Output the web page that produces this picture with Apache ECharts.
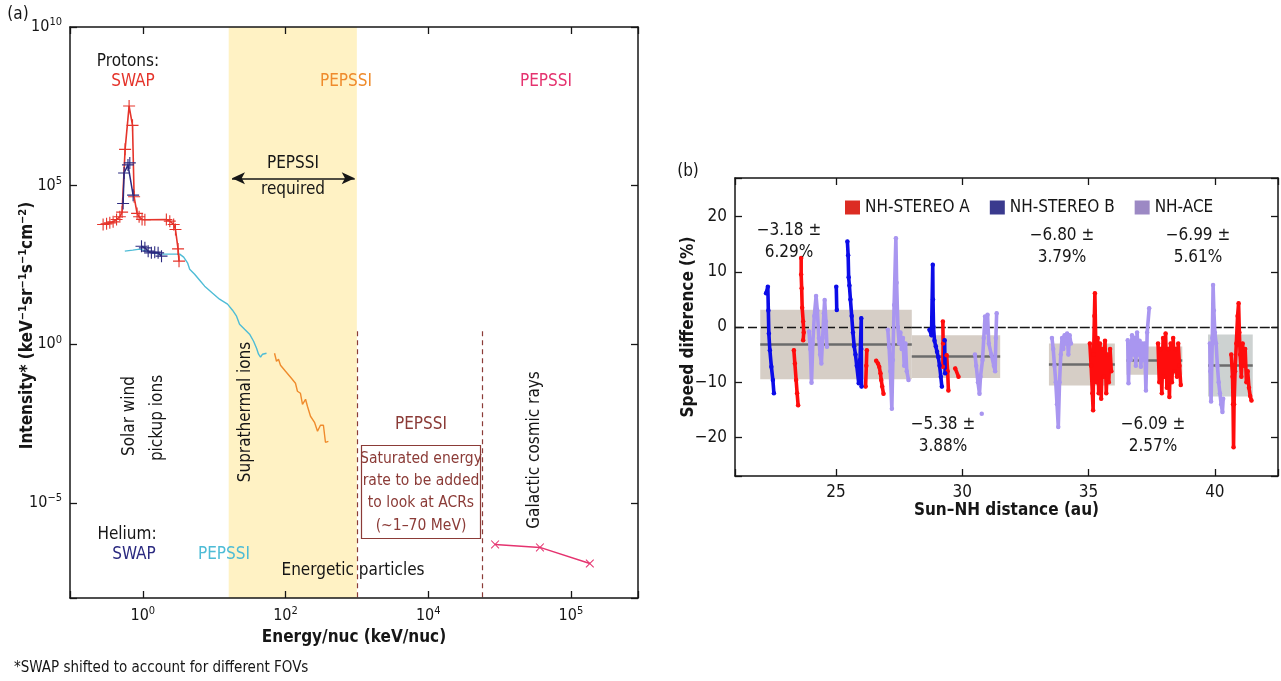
<!DOCTYPE html>
<html><head><meta charset="utf-8">
<script src="https://cdn.jsdelivr.net/npm/echarts@6/dist/echarts.min.js"></script>
<style>html,body{margin:0;padding:0;background:#fff}#c{width:1281px;height:681px}</style>
</head><body><div id="c"></div>
<script>
// ================= Panel (a): energy (keV/nuc) vs intensity =================
const swapProtonE = [0.278,0.311,0.345,0.384,0.429,0.477,0.513,0.565,0.643,0.718,0.756,0.832,0.888,0.977,1.07,2.14,2.39,2.71,2.87,3.12,3.22];
const swapProtonI = [5970,6240,6700,7210,8590,10400,14600,1.39e6,3.22e7,7.93e6,44400,13300,10400,8590,8400,8590,7590,5970,4150,1010,415];
const swapHePeakE = [0.53,0.547,0.62,0.658,0.732];
const swapHePeakI = [27400,2.5e5,4.5e5,5.2e5,50100];
const swapHeLowE = [0.959,1.07,1.19,1.32,1.47,1.64,1.83];
const swapHeLowI = [1230,1090,859,759,798,759,597];
const pepssiHeE = [0.56,0.725,0.908,1.25,1.73,2.39,3.29,3.74,4.26,4.54,5.33,6.27,7.36,9.52,11.9,15.4,18.1,20.6,22.7,26.7,31.4,35.7,39.3,41.9,44.7,47.7,54.2];
const pepssiHeI = [859,923,993,798,690,690,690,555,359,232,161,104,67.6,40.6,26.3,18.3,11.8,7.64,4.28,2.97,2.07,1.24,0.748,0.484,0.389,0.484,0.52];
const pepssiProtonE = [70.2,74.8,79.8,85.1,100,121,138,147,162,173,191,203,224,255,281,309,340,363,399];
const pepssiProtonI = [0.52,0.291,0.336,0.218,0.141,0.0846,0.0588,0.0329,0.0284,0.0128,0.0184,0.0111,0.00536,0.00346,0.0018,0.00279,0.00279,0.00081,0.00087];
const gcrE = [86500,368000,1.84e6];
const gcrI = [4.9e-7,3.94e-7,1.23e-7];
const energyTickPos = [0,2,4,6];
const energyTickExp = ['0','2','4','5'];
const intensityTickPos = [-5,0,5,10];
const intensityTickExp = ['\u22125','0','5','10'];
const pepssiRequiredE = [16,1000];      // yellow band
const regionBoundE = [1000,57000];      // dashed dividers

// ================= Panel (b): Sun-NH distance (au) vs speed difference (%) =================
const stereoA = [
 [[23.33,-4.2],[23.37,-6.6],[23.42,-9.6],[23.46,-12],[23.5,-14.2]],
 [[23.62,12.5],[23.62,9.5],[23.64,7],[23.66,3.5],[23.7,1],[23.72,-1],[23.7,-2.4]],
 [[26.22,-4.2],[26.2,-7],[26.17,-10.8]],
 [[26.59,-6.1],[26.66,-6.6],[26.71,-7.2],[26.76,-8.4],[26.79,-9.6],[26.83,-10.8],[26.88,-12.1]],
 [[29.23,1],[29.24,-3],[29.23,-7.2]],
 [[29.38,-5.1],[29.42,-8],[29.45,-11.5]],
 [[29.72,-7.5],[29.85,-9]],
 [[35.05,-3],[35.1,-7],[35.15,-12],[35.18,-15.1],[35.2,-5],[35.23,2],[35.25,6.1],[35.28,-2],[35.32,-10],[35.36,-2],[35.4,-12],[35.45,-3],[35.5,-13],[35.55,-4],[35.6,-9],[35.65,-2.5],[35.7,-12],[35.75,-5],[35.8,-10],[35.85,-4],[35.9,-8]],
 [[37.75,-3],[37.8,-10],[37.85,-4],[37.9,-12],[37.95,-2],[38.0,-9],[38.05,-1.2],[38.1,-11],[38.15,-4],[38.2,-12.7],[38.25,-3],[38.3,-10],[38.35,-2],[38.4,-8],[38.45,-4],[38.5,-9],[38.55,-3],[38.6,-7],[38.65,-10.5]],
 [[40.65,-5],[40.7,-9],[40.72,-14],[40.74,-21.8],[40.76,-14],[40.8,-8],[40.85,-3],[40.9,2],[40.94,4.3],[40.97,-1],[41.0,-5],[41.05,-9],[41.1,-3],[41.15,-7],[41.2,-4],[41.25,-10],[41.3,-8],[41.35,-11],[41.4,-12.5],[41.45,-13.3]]
];
const stereoB = [
 [[22.23,6.1],[22.3,7.3],[22.32,3],[22.34,-1.2],[22.38,-4.2],[22.44,-7.2],[22.5,-9.6],[22.54,-12]],
 [[25.01,7.3],[25.03,3.1]],
 [[25.45,15.5],[25.48,13],[25.5,9],[25.53,7.5],[25.57,5],[25.62,2],[25.67,-1],[25.72,-3.5],[25.77,-5],[25.82,-7],[25.9,-10.2],[25.95,-6],[26.0,1.6],[26.0,-4],[26.01,-10.8]],
 [[28.7,-0.5],[28.78,-1.5],[28.83,11.3],[28.84,5],[28.86,0],[28.9,-2.5],[28.95,-3.5],[29.0,-4.5],[29.05,-5.5],[29.1,-7],[29.15,-9],[29.19,-10.8]],
 [[29.3,-2.4],[29.32,-8.4]]
];
const nhAce = [
 [[23.93,-0.8],[23.98,-4],[24.03,-10.1],[24.08,-3],[24.14,2],[24.21,5.6],[24.26,3],[24.32,-2],[24.37,-5],[24.42,-6.6],[24.47,-2],[24.52,2.5],[24.55,4.9],[24.6,1],[24.64,-3.6]],
 [[27.05,-0.5],[27.1,-3.6],[27.15,-8],[27.21,-14.8],[27.25,-6],[27.3,4],[27.37,16.1],[27.4,8],[27.45,0],[27.5,-3],[27.55,-1],[27.6,-4],[27.65,-2],[27.7,-7],[27.75,-3],[27.8,-8],[27.87,-9.6]],
 [[30.5,-5],[30.55,-7],[30.62,-10],[30.68,-12.1],[30.72,-9],[30.8,-6],[30.85,-2],[30.9,1.9],[30.95,-1],[31.0,2.2],[31.05,-3],[31.15,-5],[31.25,-7],[31.3,-8],[31.33,-2],[31.36,2.5]],
 [[30.77,-15.7]],
 [[33.55,-2],[33.6,-4],[33.65,-7],[33.7,-10],[33.75,-14],[33.8,-18.1],[33.85,-10],[33.9,-5],[33.95,-2],[34.0,-4],[34.05,-1.5],[34.1,-3],[34.15,-1.2],[34.2,-5],[34.25,-1.5],[34.3,-3]],
 [[36.55,-2.4],[36.58,-10.2],[36.62,-3],[36.67,-6],[36.72,-1.5],[36.77,-5],[36.82,-2],[36.87,-7],[36.92,-1],[36.97,-5],[37.02,-2.5],[37.07,-7.2],[37.12,-3],[37.17,-6],[37.22,-3],[37.27,-11.5],[37.32,-1],[37.4,3.4]],
 [[39.8,-3],[39.82,-8],[39.85,-13.5],[39.9,-2],[39.93,7.6],[39.96,3],[40.0,-1],[40.05,-3],[40.1,-7],[40.15,-10],[40.2,-12],[40.25,-14],[40.3,-15.4],[40.33,-13]]
];
const boxStart = [22.0,28.0,33.43,36.5,39.73];
const boxEnd   = [28.0,31.5,36.04,38.71,41.5];
const boxMean  = [-3.18,-5.38,-6.80,-6.09,-6.99];
const boxStd   = [6.29,3.88,3.79,2.57,5.61];
const seriesNames = ['NH-STEREO A','NH-STEREO B','NH-ACE'];
const zeroLineSplit = 28;   // dashed style changes here

// ================= styling =================
const FONT = "'Liberation Sans Narrow','DejaVu Sans Condensed','Liberation Sans',Arial,sans-serif";
const INK='#161616', RED='#E5342B', NAVY='#2B2A80', CYAN='#4EBCD6', ORANGE='#EF8B2C', PINK='#E5336F', BROWN='#8B3B37', BAND='#FFF2C4';
const B_RED='#FF0D0D', B_BLUE='#0C0CE8', B_LAV='#A996F0';
const LEG=['#DC2C23','#3A3A8E','#9C89C4'];
const BOXC=['#D6CEC6','#D6CEC6','#D6CEC6','#D6CEC6','#CDD2D1'];
const plusPath='path://M-0.55,-6H0.55V-0.55H6V0.55H0.55V6H-0.55V0.55H-6V-0.55H-0.55Z';
const L10=Math.log10;
const toLog=(E,I)=>E.map((e,i)=>[L10(e),L10(I[i])]);
const fmt=(v,d)=>(v<0?'\u2212':'')+Math.abs(v).toFixed(d);
const supRich={b:{fontSize:16,fontFamily:FONT,color:INK,lineHeight:20},s:{fontSize:11,fontFamily:FONT,color:INK,verticalAlign:'top',lineHeight:11}};
function expLabel(pos,exp){return v=>{const i=pos.findIndex(p=>Math.abs(p-v)<1e-6);return i<0?'':'{b|10}{s|'+exp[i]+'}';};}
const axLine={onZero:false,lineStyle:{color:INK,width:1.5}};
const tickIn={inside:true,length:7,lineStyle:{color:INK,width:1.3}};

const chart=echarts.init(document.getElementById('c'));
const series=[];
series.push({type:'line',xAxisIndex:0,yAxisIndex:0,data:[],silent:true,z:1,
  markArea:{silent:true,z:1,itemStyle:{color:BAND},data:[[{xAxis:L10(pepssiRequiredE[0])},{xAxis:L10(pepssiRequiredE[1])}]]}});
series.push({type:'line',xAxisIndex:0,yAxisIndex:0,data:[],silent:true,
  markLine:{silent:true,symbol:'none',label:{show:false},lineStyle:{color:BROWN,width:1.2,type:[5,4]},
    data:regionBoundE.map(e=>[{coord:[L10(e),0.41]},{coord:[L10(e),-8]}])}});
series.push({type:'line',xAxisIndex:0,yAxisIndex:0,data:[],silent:true,
  markLine:{silent:true,symbol:['arrow','arrow'],symbolSize:[9,13],label:{show:false},lineStyle:{color:INK,width:1.5,type:'solid'},
    data:[[{coord:[1.25,5.23]},{coord:[2.97,5.23]}]]}});
const lineA=(name,E,I,color,w,sym,size,rot)=>({type:'line',name,xAxisIndex:0,yAxisIndex:0,data:toLog(E,I),silent:true,z:4,
  symbol:sym||'none',symbolSize:size||12,symbolRotate:rot||0,showSymbol:!!sym,lineStyle:{color,width:w},itemStyle:{color}});
series.push(lineA('PEPSSI He',pepssiHeE,pepssiHeI,CYAN,1.4));
series.push(lineA('PEPSSI p',pepssiProtonE,pepssiProtonI,ORANGE,1.4));
series.push(lineA('SWAP p',swapProtonE,swapProtonI,RED,1.6,plusPath,12));
series.push(lineA('SWAP He peak',swapHePeakE,swapHePeakI,NAVY,1.5,plusPath,12));
series.push(lineA('SWAP He',swapHeLowE,swapHeLowI,NAVY,1.5,plusPath,12));
series.push(lineA('GCR',gcrE,gcrI,PINK,1.5,plusPath,11,45));

series.push({type:'line',xAxisIndex:2,yAxisIndex:2,data:[],silent:true,z:1,
  markArea:{silent:true,z:1,data:boxStart.map((s,i)=>[{coord:[s,boxMean[i]+boxStd[i]],itemStyle:{color:BOXC[i]}},{coord:[boxEnd[i],boxMean[i]-boxStd[i]]}])}});
series.push({type:'line',xAxisIndex:2,yAxisIndex:2,data:[],silent:true,
  markLine:{silent:true,z:2,symbol:'none',label:{show:false},lineStyle:{color:'#6B6B6B',width:2.5,type:'solid'},
    data:boxStart.map((s,i)=>[{coord:[s,boxMean[i]]},{coord:[boxEnd[i],boxMean[i]]}])}});
series.push({type:'line',xAxisIndex:2,yAxisIndex:2,data:[],silent:true,
  markLine:{silent:true,z:2,symbol:'none',label:{show:false},lineStyle:{color:INK,width:1.4,type:[9,4]},
    data:[[{coord:[21,0]},{coord:[zeroLineSplit,0]}]]}});
series.push({type:'line',xAxisIndex:2,yAxisIndex:2,data:[],silent:true,
  markLine:{silent:true,z:2,symbol:'none',label:{show:false},lineStyle:{color:INK,width:1.4,type:[10,2]},
    data:[[{coord:[zeroLineSplit,0]},{coord:[42.5,0]}]]}});
const traceColors=[B_RED,B_BLUE,B_LAV];
[stereoA,stereoB,nhAce].forEach((group,gi)=>group.forEach(tr=>series.push({type:'line',name:seriesNames[gi],xAxisIndex:2,yAxisIndex:2,data:tr,silent:true,z:3,
  symbol:'circle',symbolSize:4.5,showSymbol:true,lineStyle:{color:traceColors[gi],width:3.6,join:'round',cap:'round'},itemStyle:{color:traceColors[gi]}})));

const T=(x,y,text,o={})=>({type:'text',x,y,rotation:o.rot||0,silent:true,z:100,
  style:{text,fill:o.color||INK,fontSize:o.size||17,fontFamily:FONT,fontWeight:o.weight||'normal',align:o.align||'center',verticalAlign:'middle'}});
const R=Math.PI/2;
const graphic=[
 T(18,15,'(a)'),
 T(128,62,'Protons:'), T(133,82,'SWAP',{color:RED}),
 T(346,82,'PEPSSI',{color:ORANGE}), T(546,82,'PEPSSI',{color:PINK}),
 T(293,164,'PEPSSI'), T(293,190,'required'),
 T(421,425,'PEPSSI',{color:BROWN}),
 {type:'rect',silent:true,z:99,shape:{x:361.5,y:445.5,width:119,height:93},style:{fill:'#fff',stroke:BROWN,lineWidth:1.2}},
 T(421,459,'Saturated energy',{color:BROWN,size:15.5}), T(421,481,'rate to be added',{color:BROWN,size:15.5}),
 T(421,503,'to look at ACRs',{color:BROWN,size:15.5}), T(421,526,'(~1\u201370 MeV)',{color:BROWN,size:15.5}),
 T(353,571,'Energetic particles'),
 T(127,535,'Helium:'), T(134,555,'SWAP',{color:NAVY}), T(224,555,'PEPSSI',{color:CYAN}),
 T(130,416,'Solar wind',{rot:R}), T(158,418,'pickup ions',{rot:R}),
 T(246,412,'Suprathermal ions',{rot:R}), T(535,450,'Galactic cosmic rays',{rot:R}),
 T(14,668,'*SWAP shifted to account for different FOVs',{align:'left',size:15}),
 T(688,172,'(b)')
];
const statPos=[[789,231],[943,425],[1062,236],[1153,425],[1198,236]];
boxMean.forEach((m,i)=>{graphic.push(T(statPos[i][0],statPos[i][1],fmt(m,2)+' \u00b1'));graphic.push(T(statPos[i][0],statPos[i][1]+22,fmt(boxStd[i],2)+'%'));});

const option={
 animation:false,
 textStyle:{fontFamily:FONT},
 grid:[{left:70,top:27,width:568,height:571},{left:735,top:178,width:543,height:298}],
 legend:{data:seriesNames.map((n,i)=>({name:n,itemStyle:{color:LEG[i]}})),left:845,top:199,padding:0,icon:'rect',itemWidth:15,itemHeight:14,itemGap:20,selectedMode:false,
   textStyle:{fontSize:17,color:INK,fontFamily:FONT}},
 xAxis:[
  {type:'value',gridIndex:0,min:-1.02,max:6.94,splitNumber:4,z:5,axisLine:axLine,axisTick:tickIn,splitLine:{show:false},
   axisLabel:{formatter:expLabel(energyTickPos,energyTickExp),rich:supRich,margin:8},
   name:'Energy/nuc (keV/nuc)',nameLocation:'middle',nameGap:28,nameTextStyle:{fontSize:17,fontWeight:'bold',color:INK,fontFamily:FONT}},
  {type:'value',gridIndex:0,position:'top',min:-1.02,max:6.94,splitNumber:4,z:5,axisLine:axLine,axisTick:tickIn,axisLabel:{show:false},splitLine:{show:false}},
  {type:'value',gridIndex:1,min:21,max:42.5,splitNumber:5,z:5,axisLine:axLine,axisTick:tickIn,splitLine:{show:false},
   axisLabel:{fontSize:17,color:INK,margin:8,formatter:v=>(Math.abs(v%5)<1e-6?String(v):'')},
   name:'Sun\u2013NH distance (au)',nameLocation:'middle',nameGap:24,nameTextStyle:{fontSize:17,fontWeight:'bold',color:INK,fontFamily:FONT}},
  {type:'value',gridIndex:1,position:'top',min:21,max:42.5,splitNumber:5,z:5,axisLine:axLine,axisTick:tickIn,axisLabel:{show:false},splitLine:{show:false}}
 ],
 yAxis:[
  {type:'value',gridIndex:0,min:-8,max:10,splitNumber:4,z:5,axisLine:axLine,axisTick:tickIn,splitLine:{show:false},
   axisLabel:{formatter:expLabel(intensityTickPos,intensityTickExp),rich:supRich,margin:8},
   name:'{b|Intensity* (keV}{s|\u22121}{b|sr}{s|\u22121}{b|s}{s|\u22121}{b|cm}{s|\u22122}{b|)}',nameLocation:'middle',nameRotate:90,nameGap:32,nameMoveOverlap:false,
   nameTextStyle:{padding:[0,26,0,0],rich:{b:{fontSize:17,fontWeight:'bold',color:INK,fontFamily:FONT,lineHeight:20},s:{fontSize:11,fontWeight:'bold',color:INK,fontFamily:FONT,verticalAlign:'top',lineHeight:11}}}},
  {type:'value',gridIndex:0,position:'right',min:-8,max:10,splitNumber:4,z:5,axisLine:axLine,axisTick:tickIn,axisLabel:{show:false},splitLine:{show:false}},
  {type:'value',gridIndex:1,min:-27,max:27,splitNumber:5,z:5,axisLine:axLine,axisTick:tickIn,splitLine:{show:false},
   axisLabel:{fontSize:17,color:INK,margin:8,formatter:v=>(Math.abs(v%10)<1e-6?fmt(v,0):'')},
   name:'Speed difference (%)',nameLocation:'middle',nameRotate:90,nameGap:38,nameMoveOverlap:false,nameTextStyle:{fontSize:17,fontWeight:'bold',color:INK,fontFamily:FONT}},
  {type:'value',gridIndex:1,position:'right',min:-27,max:27,splitNumber:5,z:5,axisLine:axLine,axisTick:tickIn,axisLabel:{show:false},splitLine:{show:false}}
 ],
 series,
 graphic
};
chart.setOption(option);
</script></body></html>
